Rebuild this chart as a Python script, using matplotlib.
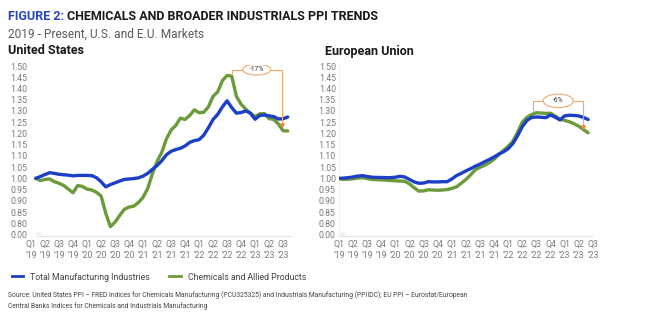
#!/usr/bin/env python3
# -*- coding: utf-8 -*-

import matplotlib
matplotlib.use("Agg")
import matplotlib.pyplot as plt
from matplotlib.patches import Ellipse

plt.rcParams['font.family'] = ['Roboto', 'DejaVu Sans']

# 季度刻度标签
quarters = ['Q1', 'Q2', 'Q3', 'Q4'] * 4 + ['Q1', 'Q2', 'Q3']
years = ["'19"] * 4 + ["'20"] * 4 + ["'21"] * 4 + ["'22"] * 4 + ["'23"] * 3
tick_labels = [q + '\n' + y for q, y in zip(quarters, years)]
y_ticks = [0.75, 0.80, 0.85, 0.90, 0.95, 1.00, 1.05, 1.10, 1.15, 1.20, 1.25, 1.30, 1.35, 1.40, 1.45, 1.50]
y_tick_labels = ['0.00'] + ['%.2f' % v for v in y_ticks[1:]]

# 美国 月度指数 (2019-01 = 1.00)
us_total = [1.000, 1.008, 1.017, 1.025, 1.022, 1.018, 1.016, 1.014, 1.011, 1.013,
            1.013, 1.013, 1.012, 1.003, 0.985, 0.962, 0.972, 0.980, 0.988, 0.995,
            0.997, 0.999, 1.002, 1.010, 1.022, 1.040, 1.057, 1.078, 1.105, 1.120,
            1.128, 1.134, 1.144, 1.160, 1.168, 1.172, 1.192, 1.225, 1.262, 1.285,
            1.318, 1.345, 1.315, 1.290, 1.293, 1.300, 1.290, 1.263, 1.280, 1.282,
            1.278, 1.275, 1.264, 1.265, 1.273]
us_chem = [1.000, 0.990, 0.995, 0.997, 0.985, 0.978, 0.968, 0.952, 0.936, 0.968,
           0.964, 0.952, 0.948, 0.938, 0.922, 0.845, 0.785, 0.805, 0.835, 0.862,
           0.872, 0.876, 0.892, 0.915, 0.955, 1.020, 1.075, 1.115, 1.175, 1.215,
           1.235, 1.268, 1.262, 1.280, 1.305, 1.292, 1.294, 1.318, 1.365, 1.385,
           1.435, 1.458, 1.455, 1.365, 1.330, 1.308, 1.290, 1.275, 1.287, 1.288,
           1.266, 1.262, 1.242, 1.212, 1.211]

# 欧盟 月度指数
eu_total = [1.000, 1.001, 1.003, 1.006, 1.010, 1.012, 1.008, 1.005, 1.004, 1.004,
            1.003, 1.003, 1.005, 1.009, 1.006, 0.995, 0.984, 0.978, 0.979, 0.985,
            0.984, 0.984, 0.985, 0.985, 0.997, 1.012, 1.022, 1.033, 1.043, 1.054,
            1.063, 1.074, 1.084, 1.095, 1.108, 1.118, 1.132, 1.155, 1.190, 1.230,
            1.258, 1.271, 1.273, 1.272, 1.270, 1.282, 1.272, 1.260, 1.278, 1.281,
            1.280, 1.278, 1.271, 1.262]
eu_chem = [0.997, 0.996, 0.996, 0.998, 1.001, 1.003, 0.999, 0.995, 0.994, 0.993,
           0.992, 0.990, 0.989, 0.988, 0.987, 0.975, 0.958, 0.943, 0.944, 0.949,
           0.948, 0.947, 0.948, 0.950, 0.955, 0.962, 0.978, 0.995, 1.015, 1.038,
           1.049, 1.058, 1.070, 1.085, 1.105, 1.124, 1.143, 1.165, 1.205, 1.250,
           1.272, 1.284, 1.292, 1.291, 1.289, 1.290, 1.278, 1.263, 1.258, 1.252,
           1.243, 1.232, 1.217, 1.203]

BLUE = '#1c3fc6'
GREEN = '#6b9a3a'
ORANGE = '#f2a86a'
W, H = 650, 329


def px_axes(fig, left, top, right, bottom):
    return fig.add_axes([left / W, 1 - bottom / H, (right - left) / W, (bottom - top) / H])


def draw_panel(ax, total, chem, x0, xlim, left_spine=False):
    xs = [x0 + i for i in range(len(total))]
    ax.plot(xs, total, color=BLUE, lw=2.4, solid_capstyle='round', zorder=3)
    ax.plot(xs, chem, color=GREEN, lw=2.4, solid_capstyle='round', zorder=2)
    ax.set_xlim(*xlim)
    ax.set_ylim(0.745, 1.505)
    ax.set_yticks(y_ticks)
    ax.set_yticklabels(y_tick_labels)
    ax.set_xticks(range(0, 55, 3))
    ax.set_xticklabels(tick_labels, linespacing=1.25)
    ax.tick_params(length=0, labelsize=6.3, labelcolor='#7a7a7a', pad=2)
    ax.tick_params(axis='x', pad=3)
    for s in ['top', 'right']:
        ax.spines[s].set_visible(False)
    ax.spines['bottom'].set_color('#e4e4e4')
    ax.spines['bottom'].set_linewidth(0.8)
    ax.spines['bottom'].set_bounds(x0, xlim[1] - 0.2)
    ax.spines['left'].set_visible(left_spine)
    ax.spines['left'].set_color('#efefef')
    ax.spines['left'].set_linewidth(0.8)
    # 断轴符号
    ax.text(x0 + 0.6, 0.752, '≈', color='#dddddd', fontsize=5, ha='center', va='center',
            family=['DejaVu Sans'])


def bracket(ax, xl, xr, ytop, yl, yr, label, w, h):
    ax.plot([xl, xl, xr, xr], [yl, ytop, ytop, yr], color=ORANGE, lw=0.8, zorder=4)
    ax.plot([xr], [yr - 0.006], marker='v', color='#f08a40', ms=2.5, zorder=5)
    xc = (xl + xr) / 2
    ax.add_patch(Ellipse((xc, ytop), w, h, facecolor='white', edgecolor=ORANGE, lw=0.8, zorder=5))
    ax.text(xc, ytop, label, fontsize=4.8, color='#333333', ha='center', va='center', zorder=6)


fig = plt.figure(figsize=(W / 100, H / 100), dpi=100)
fig.patch.set_facecolor('white')

# 美国
ax1 = px_axes(fig, 30.1, 64.9, 292.4, 235.6)
draw_panel(ax1, us_total, us_chem, 1, (-0.2, 56.0))
bracket(ax1, 43.0, 53.7, 1.484, 1.468, 1.245, '-17%', 6.0, 0.048)

# 欧盟
ax2 = px_axes(fig, 338.5, 64.9, 592.8, 235.6)
draw_panel(ax2, eu_total, eu_chem, 0, (-0.1, 54.0), left_spine=True)
bracket(ax2, 41.3, 52.0, 1.345, 1.300, 1.235, '-6%', 6.4, 0.060)

# 标题: 前缀蓝色, 其余黑色
renderer = fig.canvas.get_renderer()
t1 = fig.text(8 / W, 1 - 17 / H, 'FIGURE 2: ', color='#2b46b8', fontsize=9, fontweight='bold', va='center')
bb = t1.get_window_extent(renderer=renderer)
fig.text(bb.x1 / W, 1 - 17 / H, 'CHEMICALS AND BROADER INDUSTRIALS PPI TRENDS', color='#1a1a1a',
         fontsize=9, fontweight='bold', va='center')
fig.text(8 / W, 1 - 34 / H, '2019 - Present, U.S. and E.U. Markets', color='#5a5a5a',
         fontsize=8.6, va='center')
fig.text(8 / W, 1 - 51 / H, 'United States', color='#1a1a1a', fontsize=9, fontweight='bold', va='center')
fig.text(325 / W, 1 - 51 / H, 'European Union', color='#1a1a1a', fontsize=9, fontweight='bold', va='center')

# 图例
h1, = ax1.plot([], [], color=BLUE, lw=2, label='Total Manufacturing Industries')
h2, = ax1.plot([], [], color=GREEN, lw=2, label='Chemicals and Allied Products')
fig.legend(handles=[h1, h2], loc='center left', bbox_to_anchor=(4 / W, 1 - 277 / H), ncol=2,
           frameon=False, fontsize=6.3, handlelength=1.3, handletextpad=0.8, columnspacing=2.2,
           labelcolor='#444444')

# 数据来源
fig.text(8 / W, 1 - 295 / H,
         'Source: United States PPI \u2013 FRED Indices for Chemicals Manufacturing (PCU325325) and '
         'Industrials Manufacturing (PPIIDC); EU PPI \u2013 Eurostat/European',
         color='#444444', fontsize=4.85, va='center')
fig.text(8 / W, 1 - 306 / H, 'Central Banks Indices for Chemicals and Industrials Manufacturing',
         color='#444444', fontsize=4.85, va='center')

fig.savefig('out.png', dpi=100)
